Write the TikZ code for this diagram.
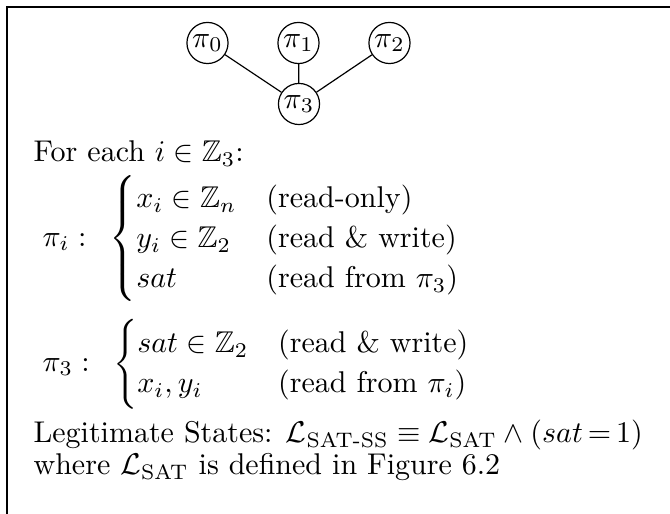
\documentclass[tikz,border=0pt]{standalone}
\usepackage{amsmath,amssymb}
\begin{document}
\begin{tikzpicture}[x=0.3333pt,y=-0.3333pt,
  proc/.style={draw,circle,inner sep=0pt,minimum size=13.7pt},
  txt/.style={inner sep=0pt,anchor=base west},
  blk/.style={inner sep=0pt,anchor=west},
  frame/.style={line width=0.55pt}]
\useasboundingbox (0,0) rectangle (670,514);
\coordinate (tl) at (7,7);
\coordinate (tr) at (670,7);
\coordinate (bl) at (7,514);
\draw[frame] (tr) -- (tl) -- (bl);
\node[proc] (p0) at (207.5,43) {$\pi_0$};
\node[proc] (p1) at (298.5,43) {$\pi_1$};
\node[proc] (p2) at (389.5,43) {$\pi_2$};
\node[proc] (p3) at (299,104) {$\pi_3$};
\draw (p0) -- (p3);
\draw (p1) -- (p3);
\draw (p2) -- (p3);
\node[txt] (t1) at (33,161.7) {For each $i\in\mathbb{Z}_3$:};
\node[blk] (c1) at (42,239) {$\pi_i:\ \,\begin{cases}
x_i\in\mathbb{Z}_n & \text{(read-only)}\\[-1.1pt]
y_i\in\mathbb{Z}_2 & \text{(read \& write)}\\[-1.1pt]
sat & \text{(read from $\pi_3$)}
\end{cases}$};
\node[blk] (c2) at (42,364) {$\pi_3:\ \,\begin{cases}
sat\in\mathbb{Z}_2 & \text{(read \& write)}\\[-1.1pt]
x_i,y_i & \text{(read from $\pi_i$)}
\end{cases}$};
\node[txt] (t2) at (33,443) {Legitimate States: $\mathcal{L}_{\text{SAT-SS}}\equiv\mathcal{L}_{\text{SAT}}\wedge(sat\,{=}\,1)$};
\node[txt] (t3) at (33,475) {where $\mathcal{L}_{\text{SAT}}$ is defined in Figure 6.2};
\end{tikzpicture}
\end{document}
